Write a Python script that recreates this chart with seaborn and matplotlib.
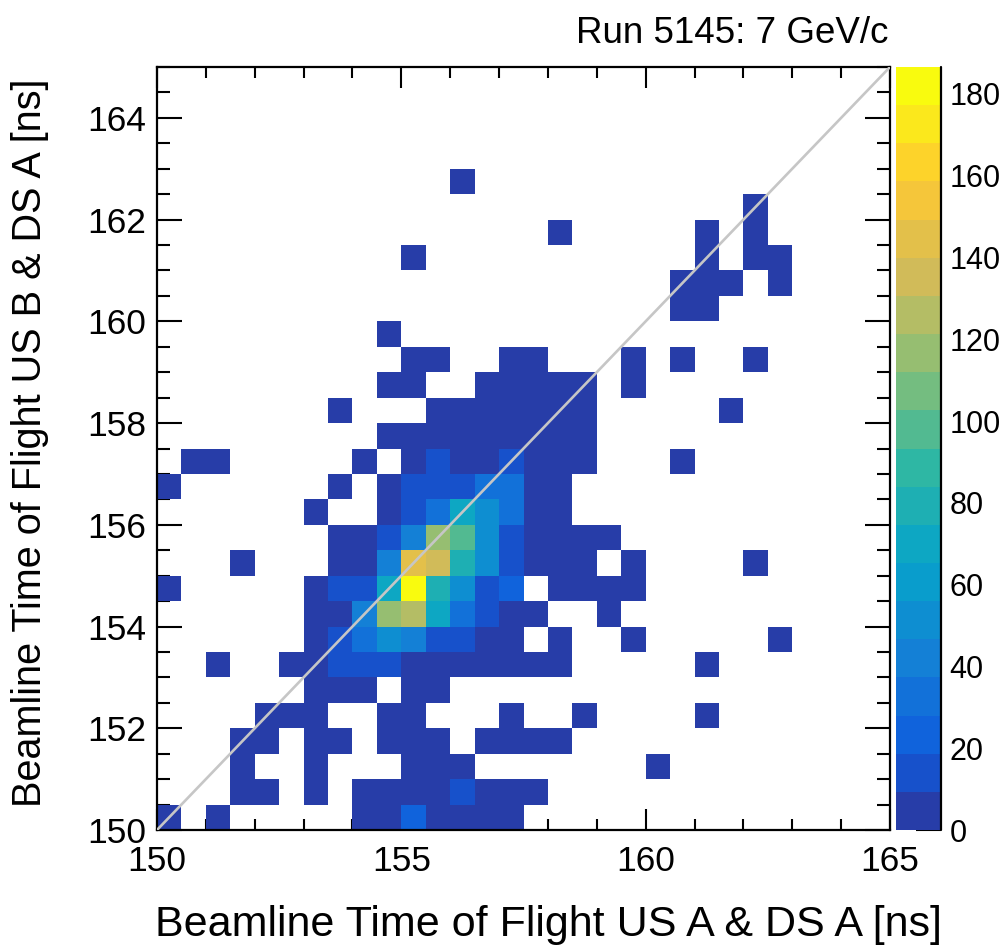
import numpy as np
import pandas as pd
import matplotlib
matplotlib.use("Agg")
import matplotlib.pyplot as plt
import seaborn as sns
from matplotlib.colors import ListedColormap, BoundaryNorm, LinearSegmentedColormap

# ---------------- data ----------------
# bin edges (ns) of the 2D histogram, 0.5 ns bins
x_edges = np.arange(150.0, 165.01, 0.5)
y_edges = np.arange(150.0, 165.01, 0.5)

# counts[j][i]: row j = y bin (bottom -> top), column i = x bin (left -> right)
counts = [
    [1, 0, 1, 0, 0, 0, 0, 0, 3, 4, 22, 6, 5, 3, 2, 0, 0, 0, 0, 0, 0, 0, 0, 0, 0, 0, 0, 0, 0, 0],
    [0, 0, 0, 1, 1, 0, 2, 0, 4, 6, 8, 7, 12, 5, 3, 2, 0, 0, 0, 0, 0, 0, 0, 0, 0, 0, 0, 0, 0, 0],
    [0, 0, 0, 1, 0, 0, 3, 0, 0, 0, 7, 6, 4, 0, 0, 0, 0, 0, 0, 0, 1, 0, 0, 0, 0, 0, 0, 0, 0, 0],
    [0, 0, 0, 1, 1, 0, 2, 2, 0, 4, 6, 5, 0, 2, 2, 1, 1, 0, 0, 0, 0, 0, 0, 0, 0, 0, 0, 0, 0, 0],
    [0, 0, 0, 0, 1, 2, 3, 0, 0, 5, 8, 0, 0, 0, 2, 0, 0, 1, 0, 0, 0, 0, 1, 0, 0, 0, 0, 0, 0, 0],
    [0, 0, 0, 0, 0, 0, 3, 4, 6, 0, 9, 7, 0, 0, 0, 0, 0, 0, 0, 0, 0, 0, 0, 0, 0, 0, 0, 0, 0, 0],
    [0, 0, 1, 0, 0, 2, 5, 11, 13, 15, 9, 9, 8, 7, 5, 3, 2, 0, 0, 0, 0, 0, 1, 0, 0, 0, 0, 0, 0, 0],
    [0, 0, 0, 0, 0, 0, 4, 14, 33, 52, 42, 16, 14, 8, 5, 0, 2, 0, 0, 1, 0, 0, 0, 0, 0, 1, 0, 0, 0, 0],
    [0, 0, 0, 0, 0, 0, 4, 8, 40, 116, 126, 70, 35, 15, 8, 4, 0, 0, 1, 0, 0, 0, 0, 0, 0, 0, 0, 0, 0, 0],
    [1, 0, 0, 0, 0, 0, 5, 13, 15, 68, 186, 80, 52, 15, 25, 0, 3, 2, 2, 1, 0, 0, 0, 0, 0, 0, 0, 0, 0, 0],
    [0, 0, 0, 1, 0, 0, 0, 6, 8, 42, 146, 136, 80, 54, 16, 6, 4, 2, 0, 1, 0, 0, 0, 0, 1, 0, 0, 0, 0, 0],
    [0, 0, 0, 0, 0, 0, 0, 5, 7, 14, 40, 116, 98, 55, 15, 7, 5, 3, 2, 0, 0, 0, 0, 0, 0, 0, 0, 0, 0, 0],
    [0, 0, 0, 0, 0, 0, 2, 0, 0, 8, 16, 34, 70, 52, 34, 6, 3, 0, 0, 0, 0, 0, 0, 0, 0, 0, 0, 0, 0, 0],
    [1, 0, 0, 0, 0, 0, 0, 3, 0, 6, 15, 16, 14, 33, 33, 5, 3, 0, 0, 0, 0, 0, 0, 0, 0, 0, 0, 0, 0, 0],
    [0, 1, 1, 0, 0, 0, 0, 0, 3, 0, 8, 12, 8, 8, 12, 5, 3, 2, 0, 0, 0, 1, 0, 0, 0, 0, 0, 0, 0, 0],
    [0, 0, 0, 0, 0, 0, 0, 0, 0, 4, 6, 7, 8, 7, 6, 4, 3, 2, 0, 0, 0, 0, 0, 0, 0, 0, 0, 0, 0, 0],
    [0, 0, 0, 0, 0, 0, 0, 1, 0, 0, 0, 3, 4, 5, 4, 3, 2, 1, 0, 0, 0, 0, 0, 1, 0, 0, 0, 0, 0, 0],
    [0, 0, 0, 0, 0, 0, 0, 0, 0, 2, 2, 0, 0, 2, 3, 2, 2, 1, 0, 1, 0, 0, 0, 0, 0, 0, 0, 0, 0, 0],
    [0, 0, 0, 0, 0, 0, 0, 0, 0, 0, 1, 1, 0, 0, 2, 1, 0, 0, 0, 1, 0, 1, 0, 0, 1, 0, 0, 0, 0, 0],
    [0, 0, 0, 0, 0, 0, 0, 0, 0, 1, 0, 0, 0, 0, 0, 0, 0, 0, 0, 0, 0, 0, 0, 0, 0, 0, 0, 0, 0, 0],
    [0, 0, 0, 0, 0, 0, 0, 0, 0, 0, 0, 0, 0, 0, 0, 0, 0, 0, 0, 0, 0, 1, 1, 0, 0, 0, 0, 0, 0, 0],
    [0, 0, 0, 0, 0, 0, 0, 0, 0, 0, 0, 0, 0, 0, 0, 0, 0, 0, 0, 0, 0, 1, 1, 1, 0, 1, 0, 0, 0, 0],
    [0, 0, 0, 0, 0, 0, 0, 0, 0, 0, 1, 0, 0, 0, 0, 0, 0, 0, 0, 0, 0, 0, 1, 0, 1, 1, 0, 0, 0, 0],
    [0, 0, 0, 0, 0, 0, 0, 0, 0, 0, 0, 0, 0, 0, 0, 0, 1, 0, 0, 0, 0, 0, 1, 0, 1, 0, 0, 0, 0, 0],
    [0, 0, 0, 0, 0, 0, 0, 0, 0, 0, 0, 0, 0, 0, 0, 0, 0, 0, 0, 0, 0, 0, 0, 0, 1, 0, 0, 0, 0, 0],
    [0, 0, 0, 0, 0, 0, 0, 0, 0, 0, 0, 0, 1, 0, 0, 0, 0, 0, 0, 0, 0, 0, 0, 0, 0, 0, 0, 0, 0, 0],
    [0] * 30,
    [0] * 30,
    [0] * 30,
    [0] * 30,
]

z_max = 186.6
n_levels = 20
x_major_ticks = [150, 155, 160, 165]
y_major_ticks = [150, 152, 154, 156, 158, 160, 162, 164]
cbar_ticks = [0, 20, 40, 60, 80, 100, 120, 140, 160, 180]

title_text = "Run 5145: 7 GeV/c"
x_title = "Beamline Time of Flight US A & DS A [ns]"
y_title = "Beamline Time of Flight US B & DS A [ns]"

# ---------------- palette (ROOT kBird, 20 contour levels) ----------------
stops = [0.0, 0.125, 0.25, 0.375, 0.5, 0.625, 0.75, 0.875, 1.0]
red = [0.2082, 0.0592, 0.0780, 0.0232, 0.1802, 0.5301, 0.8186, 0.9956, 0.9764]
green = [0.1664, 0.3599, 0.5041, 0.6419, 0.7178, 0.7492, 0.7328, 0.7862, 0.9832]
blue = [0.5293, 0.8684, 0.8385, 0.7914, 0.6425, 0.4662, 0.3499, 0.1968, 0.0539]
bird = LinearSegmentedColormap.from_list(
    "bird", list(zip(stops, zip(red, green, blue))), N=255)
level_colors = [bird((k + 0.99) / n_levels) for k in range(n_levels)]
cmap = ListedColormap(level_colors)
levels = np.linspace(0, z_max, n_levels + 1)
norm = BoundaryNorm(levels, cmap.N)

# ---------------- figure ----------------
sns.set_theme(style="white")
plt.rcParams['font.family'] = ['Liberation Sans', 'DejaVu Sans']
plt.rcParams.update({"text.color": "black", "axes.labelcolor": "black",
                     "xtick.color": "black", "ytick.color": "black"})

W, H = 1006, 947
fig = plt.figure(figsize=(W / 100, H / 100), dpi=100)
ax_l, ax_r, ax_t, ax_b = 157, 890, 67, 830
ax = fig.add_axes([ax_l / W, (H - ax_b) / H, (ax_r - ax_l) / W, (ax_b - ax_t) / H])
cax = fig.add_axes([896 / W, (H - ax_b) / H, 45 / W, (ax_b - ax_t) / H])

x_centers = (x_edges[:-1] + x_edges[1:]) / 2
y_centers = (y_edges[:-1] + y_edges[1:]) / 2
df = pd.DataFrame(np.array(counts, dtype=float), index=y_centers, columns=x_centers)

sns.heatmap(df, mask=(df == 0), cmap=cmap, norm=norm, ax=ax, cbar_ax=cax,
            cbar_kws={"ticks": cbar_ticks}, xticklabels=False, yticklabels=False)
ax.set_ylim(0, len(y_centers))
ax.set_xlim(0, len(x_centers))

bw = 0.5
def to_pos_x(v):
    return (np.asarray(v, dtype=float) - x_edges[0]) / bw
def to_pos_y(v):
    return (np.asarray(v, dtype=float) - y_edges[0]) / bw

# diagonal y = x
ax.plot(to_pos_x([x_edges[0], x_edges[-1]]), to_pos_y([y_edges[0], y_edges[-1]]),
        color="#c6c6c6", lw=1.9, zorder=5)

for s in ax.spines.values():
    s.set_visible(True)
    s.set_color("black")
    s.set_linewidth(1.6)

ax.set_xticks(to_pos_x(x_major_ticks))
ax.set_xticklabels([str(t) for t in x_major_ticks])
ax.set_xticks(to_pos_x(np.arange(150, 165.01, 1.0)), minor=True)
ax.set_yticks(to_pos_y(y_major_ticks))
ax.set_yticklabels([str(t) for t in y_major_ticks], rotation=0)
ax.set_yticks(to_pos_y(np.arange(150, 165.01, 0.5)), minor=True)

ax.tick_params(which="both", direction="in", top=True, bottom=True, left=True, right=True,
               color="black", width=1.5)
ax.tick_params(axis="x", which="major", length=15, labelsize=25.5, pad=11)
ax.tick_params(axis="x", which="minor", length=8)
ax.tick_params(axis="y", which="major", length=18, labelsize=25.5, pad=8)
ax.tick_params(axis="y", which="minor", length=9.5)

ax.set_xlabel(x_title, fontsize=31)
ax.set_ylabel(y_title, fontsize=28.5)
ax.xaxis.set_label_coords(0.534, -0.098)
ax.yaxis.set_label_coords(-0.148, 0.508)

cbar = ax.collections[0].colorbar
cbar.outline.set_visible(False)
cax.tick_params(direction="in", length=18, width=1.5, labelsize=22, pad=6,
                right=True, left=False, color="black")
cax.minorticks_off()
cax.plot([1, 1], [0, 1], transform=cax.transAxes, color="black", lw=1.6, clip_on=False)

fig.text(888 / W, 1 - 43 / H, title_text, ha="right", va="baseline", fontsize=26.5)

fig.savefig("out.png", dpi=100, facecolor="white")
